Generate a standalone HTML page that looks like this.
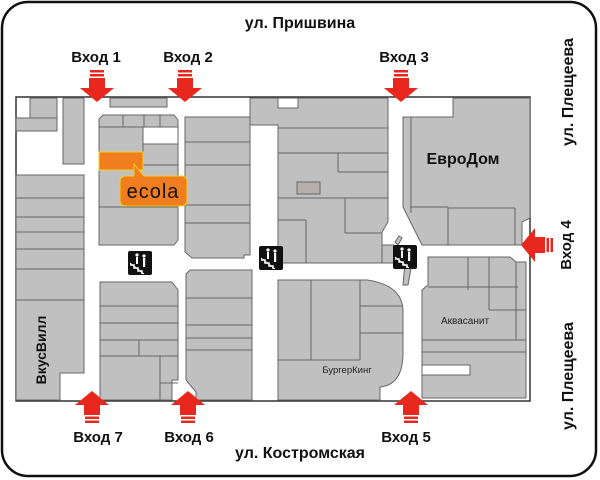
<!DOCTYPE html>
<html><head><meta charset="utf-8"><style>
html,body{margin:0;padding:0;background:#fff;}
svg{display:block;font-family:"Liberation Sans",Arial,sans-serif;}
</style></head><body>
<svg width="600" height="480" viewBox="0 0 600 480" xmlns="http://www.w3.org/2000/svg">
<defs>
<g id="dn">
  <rect x="-7" y="0" width="14" height="2.5" fill="#e8281e"/>
  <rect x="-7" y="4" width="14" height="2.5" fill="#e8281e"/>
  <rect x="-8" y="8" width="16" height="10" fill="#e8281e"/>
  <polygon points="-17,18 17,18 0,32" fill="#e8281e"/>
</g>
<g id="st">
  <rect x="0" y="0" width="24" height="24" rx="2" fill="#111"/>
  <polyline points="2,14 6,14 6,17 10,17 10,20 14,20 14,23" fill="none" stroke="#fff" stroke-width="1.5"/>
  <line x1="2" y1="12" x2="16" y2="23" stroke="#fff" stroke-width="1"/>
  <circle cx="9" cy="4" r="1.6" fill="#fff"/><rect x="8" y="6" width="2" height="7" fill="#fff"/>
  <circle cx="16" cy="5" r="1.6" fill="#fff"/><rect x="15" y="7" width="2.2" height="9" fill="#fff"/>
</g>
</defs>
<rect x="2" y="2" width="594" height="474" rx="26" fill="#fff" stroke="#111" stroke-width="2.5"/>

<g fill="#c0c0c0" stroke="#666" stroke-width="1">
<rect x="16" y="97" width="514" height="304" fill="#fff" stroke="#333" stroke-width="1.5"/>
<rect x="30" y="98" width="27" height="20"/>
<rect x="16" y="118" width="41" height="13"/>
<rect x="63" y="98" width="21" height="66"/>
<rect x="110" y="98" width="57" height="9"/>
<polygon points="103,115 174,115 178,120 178,240 174,245 99,245 99,119"/>
<line x1="99" y1="127" x2="178" y2="127"/>
<line x1="123" y1="115" x2="123" y2="127"/><line x1="144" y1="115" x2="144" y2="127"/><line x1="160" y1="115" x2="160" y2="127"/>
<rect x="143" y="127" width="35" height="17" fill="#fff"/>
<line x1="143" y1="144" x2="143" y2="170"/><line x1="143" y1="165" x2="178" y2="165"/>
<line x1="99" y1="207" x2="178" y2="207"/>
<rect x="16" y="175" width="68" height="125"/>
<line x1="16" y1="198" x2="84" y2="198"/><line x1="16" y1="217" x2="84" y2="217"/>
<line x1="16" y1="232" x2="84" y2="232"/><line x1="16" y1="249" x2="84" y2="249"/><line x1="16" y1="269" x2="84" y2="269"/>
<polygon points="16,300 84,300 84,373 60,373 60,400 16,400"/>
<polygon points="100,282 172,282 178,290 178,380 172,380 172,400 100,400"/>
<line x1="100" y1="306" x2="178" y2="306"/><line x1="100" y1="323" x2="178" y2="323"/>
<line x1="100" y1="340" x2="178" y2="340"/><line x1="100" y1="356" x2="178" y2="356"/>
<line x1="139" y1="340" x2="139" y2="356"/><line x1="160" y1="356" x2="160" y2="400"/>
<line x1="160" y1="383" x2="178" y2="383"/>
<polygon points="185,117 250,117 250,255 244,255 244,258 192,258 185,252"/>
<line x1="185" y1="142" x2="250" y2="142"/><line x1="185" y1="165" x2="250" y2="165"/>
<line x1="185" y1="205" x2="250" y2="205"/><line x1="185" y1="223" x2="250" y2="223"/>
<polygon points="190,270 252,270 252,400 196,400 196,392 186,380 186,274"/>
<line x1="186" y1="298" x2="252" y2="298"/><line x1="186" y1="325" x2="252" y2="325"/>
<line x1="186" y1="338" x2="252" y2="338"/><line x1="186" y1="350" x2="252" y2="350"/>
<polygon points="250,98 388,98 388,222 382,232 382,263 278,263 278,125 250,125"/>
<rect x="278" y="98" width="20" height="10" fill="#fff"/>
<line x1="278" y1="128" x2="388" y2="128"/><line x1="278" y1="153" x2="388" y2="153"/>
<line x1="338" y1="153" x2="338" y2="172"/><line x1="338" y1="172" x2="388" y2="172"/>
<line x1="278" y1="198" x2="388" y2="198"/><line x1="345" y1="198" x2="345" y2="233"/>
<line x1="345" y1="233" x2="382" y2="233"/><line x1="306" y1="220" x2="306" y2="263"/><line x1="278" y1="220" x2="306" y2="220"/>
<rect x="297" y="182" width="23" height="12" fill="#b8aeaa"/>
<rect x="382" y="245" width="12" height="18"/>
<polygon points="403,117 453,117 453,98 530,98 530,218 522,222 522,245 422,245 403,207"/>
<line x1="411" y1="117" x2="411" y2="213"/><line x1="411" y1="117" x2="430" y2="117"/>
<line x1="410" y1="207" x2="448" y2="207"/><line x1="448" y1="207" x2="448" y2="245"/>
<line x1="448" y1="208" x2="515" y2="208"/><line x1="515" y1="208" x2="515" y2="245"/>
<path d="M278,280 L367,280 Q402,285 403,310 L403,355 Q402,385 380,387 L380,400 L278,400 Z"/>
<line x1="311" y1="280" x2="311" y2="360"/><line x1="360" y1="280" x2="360" y2="360"/>
<line x1="278" y1="360" x2="360" y2="360"/>
<line x1="360" y1="306" x2="403" y2="306"/><line x1="360" y1="333" x2="403" y2="333"/>
<polygon points="428,257 510,257 516,262 526,262 526,398 422,398 422,290 428,285"/>
<rect x="422" y="365" width="48" height="10" fill="#fff"/>
<line x1="468" y1="257" x2="468" y2="290"/><line x1="489" y1="257" x2="489" y2="310"/>
<line x1="428" y1="287" x2="518" y2="287"/><line x1="489" y1="310" x2="526" y2="310"/>
<line x1="516" y1="262" x2="516" y2="340"/>
<line x1="422" y1="340" x2="526" y2="340"/><line x1="422" y1="352" x2="526" y2="352"/>
<polygon points="405,262 412,263 408,285 403,285" />
<polygon points="395,242 399,236 402,238 398,245"/>
</g>

<rect x="99" y="152" width="44" height="18" fill="#f07e1e" stroke="#f0d020" stroke-width="1"/>
<path d="M126,176 L134,176 L134,164 L144,176 L181,176 Q187,176 187,182 L187,200 Q187,206 181,206 L126,206 Q120,206 120,200 L120,182 Q120,176 126,176 Z" fill="#f07e1e" stroke="#f0d020" stroke-width="1"/>
<text x="153" y="198" font-size="20" text-anchor="middle" fill="#111" letter-spacing="1">ecola</text>

<use href="#st" x="128" y="251"/>
<use href="#st" x="259" y="246"/>
<use href="#st" x="393" y="245"/>

<text x="463" y="164" font-size="16" font-weight="bold" text-anchor="middle" fill="#111">ЕвроДом</text>
<text x="465" y="324" font-size="10" text-anchor="middle" fill="#222">Аквасанит</text>
<text x="347" y="373" font-size="9.5" text-anchor="middle" fill="#222">БургерКинг</text>
<text transform="translate(46,350) rotate(-90)" font-size="14" font-weight="bold" text-anchor="middle" fill="#111">ВкусВилл</text>

<use href="#dn" x="97" y="70"/>
<use href="#dn" x="185" y="70"/>
<use href="#dn" x="401" y="70"/>
<use href="#dn" transform="translate(92,423) scale(1,-1)"/>
<use href="#dn" transform="translate(188,423) scale(1,-1)"/>
<use href="#dn" transform="translate(411,423) scale(1,-1)"/>
<use href="#dn" transform="translate(553,245) rotate(90)"/>

<g font-size="15" font-weight="bold" fill="#111" text-anchor="middle">
<text x="300" y="28" font-size="16">ул. Пришвина</text>
<text x="300" y="458" font-size="16">ул. Костромская</text>
<text x="96" y="62">Вход 1</text>
<text x="188" y="62">Вход 2</text>
<text x="404" y="62">Вход 3</text>
<text x="98" y="442">Вход 7</text>
<text x="189" y="442">Вход 6</text>
<text x="406" y="442">Вход 5</text>
<text transform="translate(571,245) rotate(-90)">Вход 4</text>
<text transform="translate(573,92) rotate(-90)" font-size="16">ул. Плещеева</text>
<text transform="translate(573,376) rotate(-90)" font-size="16">ул. Плещеева</text>
</g>
</svg>
</body></html>
